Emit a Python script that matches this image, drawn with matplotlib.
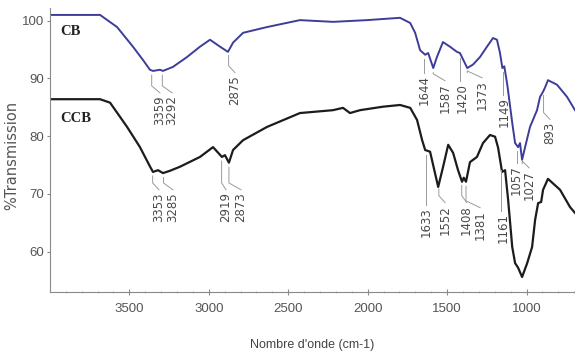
import numpy as np
import matplotlib
matplotlib.use('Agg')
import matplotlib.pyplot as plt

# spectre CB (bleu)
wn_cb = [3999, 3684, 3577, 3477, 3414, 3370, 3351, 3307, 3288, 3225, 3137, 3055,
         2992, 2929, 2879, 2847, 2784, 2633, 2426, 2218, 2004, 1796, 1732, 1701,
         1670, 1638, 1619, 1587, 1564, 1526, 1482, 1438, 1419, 1373, 1337, 1293,
         1249, 1211, 1186, 1167, 1152, 1140, 1121, 1090, 1072, 1053, 1041, 1028,
         1009, 978, 934, 915, 896, 884, 865, 808, 745, 695]
t_cb = [101.0, 101.0, 98.9, 95.5, 93.2, 91.5, 91.3, 91.5, 91.3, 92.0, 93.7, 95.5,
        96.7, 95.5, 94.6, 96.2, 97.9, 98.9, 100.1, 99.8, 100.1, 100.5, 99.6, 97.9,
        94.9, 94.1, 94.4, 91.8, 93.7, 96.3, 95.5, 94.6, 94.4, 91.8, 92.4, 93.7,
        95.5, 97.0, 96.7, 94.4, 91.8, 92.1, 88.9, 82.3, 78.8, 78.1, 78.8, 75.9,
        78.1, 81.6, 84.5, 86.8, 87.7, 88.4, 89.7, 88.9, 86.8, 84.5]

# spectre CCB (noir)
wn_ccb = [3999, 3684, 3621, 3514, 3433, 3369, 3351, 3319, 3288, 3244, 3181, 3055,
          2973, 2917, 2898, 2873, 2847, 2784, 2633, 2426, 2218, 2155, 2111, 2048,
          1904, 1796, 1732, 1689, 1657, 1638, 1607, 1556, 1525, 1493, 1462, 1431,
          1406, 1395, 1381, 1356, 1312, 1274, 1230, 1198, 1179, 1154, 1135, 1116,
          1090, 1072, 1053, 1028, 996, 965, 946, 927, 908, 896, 865, 789, 726, 695]
t_ccb = [86.4, 86.4, 85.8, 81.6, 78.1, 74.7, 73.8, 74.1, 73.6, 74.0, 74.7, 76.4,
         78.1, 76.4, 76.7, 75.4, 77.6, 79.3, 81.6, 84.0, 84.5, 84.9, 84.0, 84.5,
         85.1, 85.4, 84.9, 82.8, 79.3, 77.6, 77.3, 71.2, 74.7, 78.5, 77.1, 74.1,
         72.1, 72.8, 72.1, 75.5, 76.4, 78.8, 80.2, 79.9, 78.0, 73.8, 74.1, 69.0,
         60.8, 58.0, 57.2, 55.6, 58.0, 60.8, 65.5, 68.4, 68.6, 70.7, 72.6, 70.7, 67.7, 66.7]

# pics annotes : (texte, position du pic, x du texte, haut du texte)
pk_cb = ['3359', '3292', '2875', '1644', '1587', '1420', '1373', '1149', '1057', '1027', '893']
pk_cb_wn = [3359, 3292, 2875, 1644, 1587, 1420, 1373, 1149, 1057, 1027, 893]
pk_cb_lx = [3307, 3231, 2835, 1645, 1513, 1406, 1280, 1141, 1064, 984, 853]
pk_cb_top = [87.1, 87.1, 90.6, 90.6, 89.2, 89.2, 89.7, 86.8, 75.0, 74.1, 82.5]

pk_ccb = ['3353', '3285', '2919', '2873', '1633', '1552', '1408', '1381', '1161']
pk_ccb_wn = [3353, 3285, 2919, 2873, 1633, 1552, 1408, 1381, 1161]
pk_ccb_lx = [3313, 3225, 2891, 2797, 1630, 1513, 1377, 1292, 1148]
pk_ccb_top = [70.3, 70.3, 70.3, 70.3, 67.7, 68.1, 68.1, 67.2, 66.7]

arial = ['Liberation Sans', 'DejaVu Sans']

fig = plt.figure(figsize=(5.75, 3.56), dpi=100)
ax = fig.add_axes([50/575, 64/356, 525/575, 284/356])

ax.plot(wn_cb, t_cb, color='#3d3d99', lw=1.4)
ax.plot(wn_ccb, t_ccb, color='#1c1c1c', lw=1.6)


def annot(wn, t, names, pk, lx, top):
    for s, p, x, y in zip(names, pk, lx, top):
        cv = np.interp(-p, -np.array(wn), np.array(t))
        if abs(p - x) < 15:
            xs, ys = [p, p], [cv - 0.8, y + 0.4]
        else:
            xs, ys = [p, p, x], [cv - 0.8, y + 1.6, y + 0.4]
        ax.plot(xs, ys, color='#9a9a9a', lw=0.7)
        ax.text(x, y, s, rotation=90, ha='center', va='top', fontsize=8.5,
                color='#4a4a4a', family='DejaVu Sans')


annot(wn_cb, t_cb, pk_cb, pk_cb_wn, pk_cb_lx, pk_cb_top)
annot(wn_ccb, t_ccb, pk_ccb, pk_ccb_wn, pk_ccb_lx, pk_ccb_top)

ax.text(3936, 98.1, 'CB', fontsize=10.5, fontweight='bold', family='Liberation Serif',
        color='#222222', va='center')
ax.text(3936, 83.0, 'CCB', fontsize=10.5, fontweight='bold', family='Liberation Serif',
        color='#222222', va='center')

ax.set_xlim(3999, 695)
ax.set_ylim(53.0, 102.2)
ax.set_xticks([3500, 3000, 2500, 2000, 1500, 1000])
ax.set_xticks(np.arange(700, 4000, 100), minor=True)
ax.set_yticks([60, 70, 80, 90, 100])

for sp in ['top', 'right']:
    ax.spines[sp].set_visible(False)
for sp in ['left', 'bottom']:
    ax.spines[sp].set_color('#8a8a8a')
    ax.spines[sp].set_linewidth(0.8)

ax.tick_params(axis='x', which='major', direction='inout', length=4, color='#8a8a8a',
               labelsize=9.5, labelcolor='#555555', pad=6)
ax.tick_params(axis='x', which='minor', direction='inout', length=2, color='#aaaaaa')
ax.tick_params(axis='y', direction='out', length=2, color='#8a8a8a',
               labelsize=9.5, labelcolor='#555555', pad=2)
for lab in ax.get_xticklabels() + ax.get_yticklabels():
    lab.set_family(arial)

ax.set_xlabel("Nombre d'onde (cm-1)", fontsize=9, color='#444444', family=arial)
ax.xaxis.set_label_coords(0.5, -0.165)
ax.set_ylabel('%Transmission', fontsize=10.5, color='#555555')
ax.yaxis.set_label_coords(-0.058, 0.48)

fig.savefig('out.png', dpi=100)
